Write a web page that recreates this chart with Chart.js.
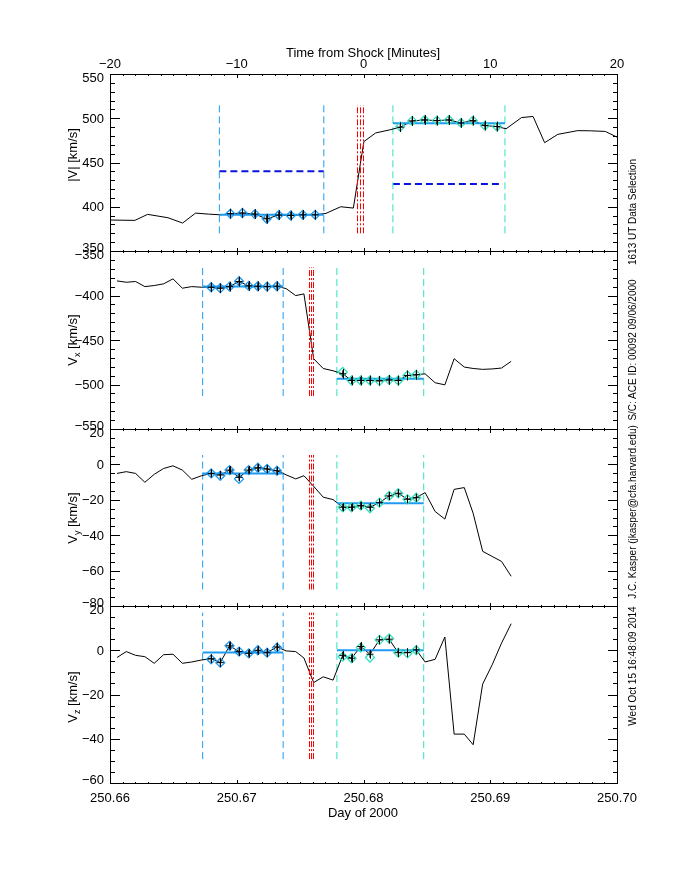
<!DOCTYPE html>
<html><head><meta charset="utf-8">
<script src="https://cdn.jsdelivr.net/npm/chart.js@4.4.1/dist/chart.umd.min.js"></script>
<style>
html,body{margin:0;padding:0;background:#fff;}
#page{position:relative;width:680px;height:880px;background:#fff;overflow:hidden;font-family:"Liberation Sans",Arial,sans-serif;color:#000;}
canvas{position:absolute;left:0;top:0;}
.t{position:absolute;white-space:nowrap;font-size:13px;line-height:1;}
.c{transform:translate(-50%,-50%);}
.rot{transform:translate(-50%,-50%) rotate(-90deg);}
.s{font-size:10px;}
sub{font-size:9px;vertical-align:-3px;line-height:0;}
</style></head>
<body><div id="page">
<canvas id="c1" width="680" height="880"></canvas>
<canvas id="c2" width="680" height="880"></canvas>
<canvas id="c3" width="680" height="880"></canvas>
<canvas id="c4" width="680" height="880"></canvas>
<div class="t c" style="left:363px;top:52px">Time from Shock [Minutes]</div>
<div class="t c" style="left:363px;top:812px">Day of 2000</div>
<div class="t rot" style="left:72px;top:155px">|V| [km/s]</div>
<div class="t rot" style="left:72px;top:340px">V<sub>x</sub> [km/s]</div>
<div class="t rot" style="left:72px;top:518px">V<sub>y</sub> [km/s]</div>
<div class="t rot" style="left:72px;top:697px">V<sub>z</sub> [km/s]</div>
<div class="t rot s" style="left:633px;top:212px">1613 UT Data Selection</div>
<div class="t rot s" style="left:633px;top:350px">S/C: ACE ID: 00092 09/06/2000</div>
<div class="t rot s" style="left:633px;top:512px">J.C. Kasper (jkasper@cfa.harvard.edu)</div>
<div class="t rot s" style="left:633px;top:666px">Wed Oct 15 16:48:09 2014</div>
</div>
<script>
// ---------------- DATA ----------------
const minTicks = [-20, -10, 0, 10, 20];
const dayTicks = [250.66, 250.67, 250.68, 250.69, 250.70];
const p1YTicks = [350, 400, 450, 500, 550];
const p2YTicks = [-550, -500, -450, -400, -350];
const p3YTicks = [-80, -60, -40, -20, 0, 20];
const p4YTicks = [-60, -40, -20, 0, 20];

// Panel 1 : |V| vs minutes from shock
const p1Min = [-20.0, -18.04, -17.03, -15.43, -14.27, -13.25, -12.24, -11.28, -10.50, -9.55, -8.58, -7.64, -6.69, -5.74, -4.79, -3.81, -2.96, -1.80, -0.80, 0.03, 0.96, 2.10, 2.90, 3.84, 4.82, 5.79, 6.74, 7.69, 8.63, 9.58, 10.53, 11.25, 12.47, 13.38, 14.29, 15.33, 16.90, 17.92, 19.08, 20.0];
const p1V = [385.0, 384.6, 391.4, 387.6, 381.6, 392.8, 391.7, 390.9, 392.1, 392.9, 391.7, 386.4, 390.6, 390.1, 390.9, 390.9, 392.5, 400.0, 398.5, 473.6, 483.4, 487.0, 489.9, 497.0, 498.1, 497.3, 498.1, 494.7, 497.3, 491.7, 490.6, 488.1, 500.8, 502.0, 472.4, 481.8, 486.0, 485.8, 485.1, 478.7];
const p1UMin = [-10.50, -9.55, -8.58, -7.64, -6.69, -5.74, -4.79, -3.81];
const p1UV = [392.1, 392.9, 391.7, 386.4, 390.6, 390.1, 390.9, 390.9];
const p1UDia = [392.1, 392.9, 391.7, 386.4, 390.6, 390.1, 390.9, 390.9];
const p1UErr = [5.5, 5.5, 5.5, 5.5, 5.5, 5.5, 5.5, 5.5];
const p1DMin = [2.90, 3.84, 4.82, 5.79, 6.74, 7.69, 8.63, 9.58, 10.53];
const p1DV = [489.9, 497.0, 498.1, 497.3, 498.1, 494.7, 497.3, 491.7, 490.6];
const p1DDia = [490.5, 497.0, 498.1, 497.3, 498.1, 494.7, 497.3, 491.7, 490.6];
const p1DErr = [5.5, 5.5, 5.5, 5.5, 5.5, 5.5, 5.5, 5.5, 5.5];
const p1UpX = [-11.37, -3.13];
const p1DownX = [2.32, 11.16];
const p1ShockX = [-0.473, -0.237, 0.0];
const p1Avg = [390.9, 494.4];
const p1Span = [370, 515];
const p1Ref = [440.2, 425.6];
const p1RefDownX = [2.32, 11.0];

// Panels 2-4 : components vs day of 2000
const dayTime = [250.66055, 250.66128, 250.66202, 250.66275, 250.66349, 250.66423, 250.66497, 250.66571, 250.66645, 250.66722,
  250.66798, 250.66870, 250.66943, 250.67018, 250.67094, 250.67166, 250.67239, 250.67317,
  250.67390, 250.67465, 250.67530, 250.67607, 250.67682, 250.67760,
  250.67836, 250.67906, 250.67978, 250.68051, 250.68126, 250.68202, 250.68274, 250.68347, 250.68416,
  250.68486, 250.68565, 250.68642, 250.68715, 250.68795, 250.68865, 250.68940, 250.69015, 250.69089, 250.69165];
const vxLine = [-383.6, -385.1, -384.3, -390.0, -388.8, -386.9, -381.3, -391.8, -390.0, -390.7,
  -390.7, -391.8, -390.0, -384.3, -389.2, -389.6, -390.0, -389.6,
  -392.3, -400.1, -398.2, -471.0, -482.0, -484.6,
  -488.0, -495.5, -495.5, -495.5, -495.9, -494.8, -495.5, -489.8, -489.1,
  -488.0, -498.0, -500.4, -471.0, -480.4, -482.0, -483.0, -482.5, -481.5, -474.0];
const vyLine = [-5.1, -4.1, -5.1, -10.1, -5.6, -2.3, -0.8, -3.2, -8.4, -6.4,
  -5.1, -6.0, -3.2, -7.3, -3.2, -1.9, -2.6, -3.6,
  -5.9, -8.2, -6.4, -12.4, -18.5, -19.9,
  -24.2, -24.2, -23.3, -24.2, -21.6, -17.8, -16.3, -19.7, -18.8,
  -15.9, -26.6, -30.9, -14.1, -13.1, -27.6, -49.1, -52.0, -54.8, -63.2];
const vzLine = [-3.3, -0.6, -2.3, -2.9, -5.9, -2.0, -1.8, -5.9, -5.3, -4.4,
  -3.8, -5.6, 2.0, -0.6, -1.4, 0.0, -1.1, 1.5,
  -0.3, -0.6, -3.5, -14.6, -12.0, -13.5,
  -2.3, -3.6, 1.7, -1.8, 4.7, 5.0, -1.1, -1.1, 0.2,
  -5.3, -4.1, 6.0, -37.9, -37.9, -42.7, -15.3, -6.6, 3.2, 12.0];
const uDay = [250.66798, 250.66870, 250.66943, 250.67018, 250.67094, 250.67166, 250.67239, 250.67317];
const dDay = [250.67836, 250.67906, 250.67978, 250.68051, 250.68126, 250.68202, 250.68274, 250.68347, 250.68416];
const vxU = [-390.7, -391.8, -390.0, -384.3, -389.2, -389.6, -390.0, -389.6];
const vxUDia = [-390.7, -391.8, -390.0, -384.0, -389.2, -389.6, -390.0, -389.6];
const vxUErr = [5.5, 5.5, 5.5, 5.5, 5.5, 5.5, 5.5, 5.5];
const vxD = [-488.0, -495.5, -495.5, -495.5, -495.9, -494.8, -495.5, -489.8, -489.1];
const vxDDia = [-486.0, -495.5, -495.5, -495.5, -496.0, -494.8, -495.5, -489.8, -489.1];
const vxDErr = [5.5, 5.5, 5.5, 5.5, 5.5, 5.5, 5.5, 5.5, 5.5];
const vyU = [-5.1, -6.0, -3.2, -7.3, -3.2, -1.9, -2.6, -3.6];
const vyUDia = [-5.1, -6.4, -3.2, -8.2, -3.2, -1.9, -2.6, -3.6];
const vyUErr = [2.3, 2.3, 2.3, 2.3, 2.3, 2.3, 2.3, 2.3];
const vyD = [-24.2, -24.2, -23.3, -24.2, -21.6, -17.8, -16.3, -19.7, -18.8];
const vyDDia = [-24.2, -24.2, -23.3, -24.8, -21.6, -17.8, -16.3, -19.7, -18.8];
const vyDErr = [2.3, 2.3, 2.3, 2.3, 2.3, 2.3, 2.3, 2.3, 2.3];
const vzU = [-3.8, -5.6, 2.0, -0.6, -1.4, 0.0, -1.1, 1.5];
const vzUDia = [-4.1, -5.6, 2.0, -0.6, -1.4, 0.0, -1.1, 1.2];
const vzUErr = [2.0, 2.0, 2.0, 2.0, 2.0, 2.0, 2.0, 2.0];
const vzD = [-2.3, -3.6, 1.7, -1.8, 4.7, 5.0, -1.1, -1.1, 0.2];
const vzDDia = [-2.9, -3.6, 1.2, -3.3, 4.7, 5.3, -1.1, -1.4, 0.0];
const vzDErr = [2.0, 2.0, 2.0, 2.0, 2.0, 2.0, 2.0, 2.0, 2.0];
const dayUpX = [250.66731, 250.67366];
const dayDownX = [250.67790, 250.68475];
const dayShockX = [250.675740, 250.675897, 250.676055];
const vxAvg = [-390.0, -493.5];
const vyAvg = [-5.1, -21.9];
const vzAvg = [-1.05, 0.0];
const vxSpan = [-513.0, -368.5];
const vySpan = [-70.7, 5.3];
const vzSpan = [-49.2, 17.0];

// ---------------- STYLE ----------------
const C_UP = '#1e9bf0', C_DOWN = '#33e0c0', C_RED = '#ff0000', C_NAVY = '#0a14dc';
const FONT = '13px "Liberation Sans", Arial, sans-serif';
const pts = (xs, ys) => xs.map((x, i) => ({x: x, y: ys[i]}));
const lineDS = (data, color, width, dash, order) => ({data, showLine: true, borderColor: color, backgroundColor: color,
  borderWidth: width, borderDash: dash, pointRadius: 0, pointHoverRadius: 0, fill: false, tension: 0, order});
const crossDS = (data) => ({data, showLine: false, pointStyle: 'cross', pointRadius: 3.5, pointHoverRadius: 3.5,
  borderColor: '#000', backgroundColor: '#000', borderWidth: 1, order: 1});
const diaDS = (data, color) => ({data, showLine: false, pointStyle: 'rectRot', pointRadius: 4.5, pointHoverRadius: 4.5,
  borderColor: color, backgroundColor: 'rgba(0,0,0,0)', borderWidth: 1.3, order: 2});
const fmtNum = v => (v < 0 ? '\u2212' + Math.abs(v) : String(v));

function idlPlugin(cfg) {
  return {
    id: 'idl_' + cfg.name,
    afterDatasetsDraw(chart) {
      const ctx = chart.ctx, xs = chart.scales.x, ys = chart.scales.y, a = chart.chartArea;
      const L = a.left, R = a.right, T = a.top, B = a.bottom;
      const seg = (x1, y1, x2, y2) => { ctx.beginPath(); ctx.moveTo(x1, y1); ctx.lineTo(x2, y2); ctx.stroke(); };
      ctx.save();
      ctx.strokeStyle = '#000'; ctx.lineWidth = 1; ctx.setLineDash([]);
      // error bars
      cfg.errors.forEach(e => {
        e.x.forEach((xv, i) => {
          const px = Math.round(xs.getPixelForValue(xv)) + 0.5;
          seg(px, ys.getPixelForValue(e.y[i] - e.err[i]), px, ys.getPixelForValue(e.y[i] + e.err[i]));
        });
      });
      // frame
      ctx.strokeRect(L + 0.5, T + 0.5, R - L, B - T);
      // y ticks (left & right, inward)
      const yTick = (v, len) => { const py = Math.round(ys.getPixelForValue(v)) + 0.5; seg(L, py, L + len, py); seg(R + 1, py, R + 1 - len, py); };
      for (let v = cfg.yTicks[0]; v <= cfg.yTicks[cfg.yTicks.length - 1] + 1e-9; v += cfg.yMinor) yTick(v, 5);
      cfg.yTicks.forEach(v => yTick(v, 10));
      // x ticks (top & bottom, inward)
      const xTick = (v, len) => { const px = Math.round(xs.getPixelForValue(v)) + 0.5; seg(px, T, px, T + len); seg(px, B + 1, px, B + 1 - len); };
      const x0 = cfg.xTicks[0], x1 = cfg.xTicks[cfg.xTicks.length - 1];
      for (let i = 0; i <= 40; i++) xTick(x0 + (x1 - x0) * i / 40, 2);
      cfg.xTicks.forEach(v => xTick(v, 4));
      // tick labels
      ctx.fillStyle = '#000'; ctx.font = FONT; ctx.textBaseline = 'alphabetic';
      ctx.textAlign = 'right';
      cfg.yTicks.forEach((v, i) => {
        let cy = ys.getPixelForValue(v);
        if (i === 0) cy -= 4; else if (i === cfg.yTicks.length - 1) cy += 3.5;
        ctx.fillText(fmtNum(v), L - 6, cy + 4.6);
      });
      ctx.textAlign = 'center';
      if (cfg.topLabels) cfg.xTicks.forEach(v => ctx.fillText(fmtNum(v), xs.getPixelForValue(v), 63 + 4.6));
      if (cfg.bottomLabels) cfg.xTicks.forEach(v => ctx.fillText(v.toFixed(2), xs.getPixelForValue(v), 797 + 4.6));
      ctx.restore();
    }
  };
}

function makeChart(id, top, bottom, xr, yr, datasets, cfg) {
  return new Chart(document.getElementById(id), {
    type: 'scatter',
    data: {datasets},
    options: {
      responsive: false, animation: false, events: [],
      layout: {padding: {left: 110, right: 63, top: top, bottom: 880 - bottom}},
      plugins: {legend: {display: false}, tooltip: {enabled: false}},
      scales: {
        x: {type: 'linear', min: xr[0], max: xr[1], display: false},
        y: {type: 'linear', min: yr[0], max: yr[1], display: false}
      }
    },
    plugins: [idlPlugin(cfg)]
  });
}

function regionSets(upX, downX, shockX, span, avg, lineX, lineY, uX, uY, uDia, dX, dY, dDia) {
  const ds = [];
  upX.forEach(x => ds.push(lineDS(pts([x, x], span), C_UP, 1, [7, 4], 6)));
  downX.forEach(x => ds.push(lineDS(pts([x, x], span), C_DOWN, 1, [7, 4], 6)));
  ds.push(lineDS(pts(lineX, lineY), '#000', 1, [], 5));
  shockX.forEach(x => ds.push(lineDS(pts([x, x], span), C_RED, 1, [6, 2, 2, 2], 4)));
  ds.push(lineDS(pts(upX, [avg[0], avg[0]]), C_UP, 2, [], 3));
  ds.push(lineDS(pts(downX, [avg[1], avg[1]]), C_UP, 2, [], 3));
  ds.push(diaDS(pts(uX, uDia), C_UP));
  ds.push(diaDS(pts(dX, dDia), C_DOWN));
  ds.push(crossDS(pts(uX, uY)));
  ds.push(crossDS(pts(dX, dY)));
  return ds;
}

// Panel 1
const ds1 = regionSets(p1UpX, p1DownX, p1ShockX, p1Span, p1Avg, p1Min, p1V, p1UMin, p1UV, p1UDia, p1DMin, p1DV, p1DDia);
ds1.push(lineDS(pts(p1UpX, [p1Ref[0], p1Ref[0]]), C_NAVY, 2, [7, 4], 6));
ds1.push(lineDS(pts(p1RefDownX, [p1Ref[1], p1Ref[1]]), C_NAVY, 2, [7, 4], 6));
makeChart('c1', 74, 251, [minTicks[0], minTicks[4]], [p1YTicks[0], p1YTicks[4]], ds1,
  {name: 'p1', yTicks: p1YTicks, yMinor: 10, xTicks: minTicks, topLabels: true,
   errors: [{x: p1UMin, y: p1UV, err: p1UErr}, {x: p1DMin, y: p1DV, err: p1DErr}]});

// Panel 2
makeChart('c2', 251, 429, [dayTicks[0], dayTicks[4]], [p2YTicks[0], p2YTicks[4]],
  regionSets(dayUpX, dayDownX, dayShockX, vxSpan, vxAvg, dayTime, vxLine, uDay, vxU, vxUDia, dDay, vxD, vxDDia),
  {name: 'p2', yTicks: p2YTicks, yMinor: 10, xTicks: dayTicks,
   errors: [{x: uDay, y: vxU, err: vxUErr}, {x: dDay, y: vxD, err: vxDErr}]});

// Panel 3
makeChart('c3', 429, 606, [dayTicks[0], dayTicks[4]], [p3YTicks[0], p3YTicks[5]],
  regionSets(dayUpX, dayDownX, dayShockX, vySpan, vyAvg, dayTime, vyLine, uDay, vyU, vyUDia, dDay, vyD, vyDDia),
  {name: 'p3', yTicks: p3YTicks, yMinor: 5, xTicks: dayTicks,
   errors: [{x: uDay, y: vyU, err: vyUErr}, {x: dDay, y: vyD, err: vyDErr}]});

// Panel 4
makeChart('c4', 606, 783, [dayTicks[0], dayTicks[4]], [p4YTicks[0], p4YTicks[4]],
  regionSets(dayUpX, dayDownX, dayShockX, vzSpan, vzAvg, dayTime, vzLine, uDay, vzU, vzUDia, dDay, vzD, vzDDia),
  {name: 'p4', yTicks: p4YTicks, yMinor: 5, xTicks: dayTicks, bottomLabels: true,
   errors: [{x: uDay, y: vzU, err: vzUErr}, {x: dDay, y: vzD, err: vzDErr}]});
</script>
</body></html>
